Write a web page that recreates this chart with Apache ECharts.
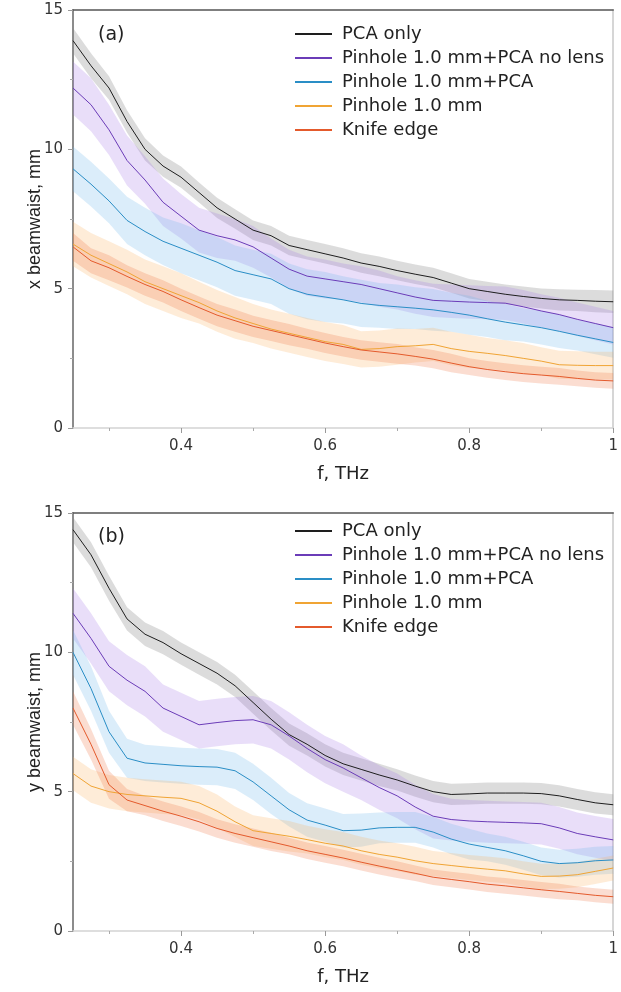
<!DOCTYPE html>
<html>
<head>
<meta charset="utf-8">
<script src="https://cdn.jsdelivr.net/npm/echarts@6/dist/echarts.min.js"></script>
<style>
  html, body { margin: 0; padding: 0; background: #fff; }
  #chart { width: 621px; height: 992px; }
</style>
</head>
<body>
<div id="chart"></div>
<script>
// Frequency grid (THz)
const freq = [0.25,0.275,0.3,0.325,0.35,0.375,0.4,0.425,0.45,0.475,0.5,0.525,0.55,0.575,0.6,0.625,0.65,0.675,0.7,0.725,0.75,0.775,0.8,0.825,0.85,0.875,0.9,0.925,0.95,0.975,1.0];

const seriesNames = ['PCA only', 'Pinhole 1.0 mm+PCA no lens', 'Pinhole 1.0 mm+PCA', 'Pinhole 1.0 mm', 'Knife edge'];

// x beamwaist, mm
const xPcaOnly      = [13.9,13.0,12.2,11.0,10.0,9.4,9.0,8.45,7.9,7.5,7.1,6.9,6.55,6.4,6.25,6.1,5.92,5.8,5.65,5.52,5.4,5.2,5.0,4.9,4.8,4.72,4.65,4.6,4.58,4.55,4.53];
const xPinholePcaNL = [12.2,11.6,10.7,9.6,8.9,8.1,7.6,7.1,6.9,6.75,6.5,6.1,5.7,5.45,5.35,5.25,5.15,5.0,4.85,4.7,4.58,4.55,4.52,4.5,4.48,4.35,4.2,4.07,3.9,3.75,3.6];
const xPinholePca   = [9.3,8.75,8.15,7.45,7.05,6.7,6.45,6.2,5.95,5.65,5.5,5.35,5.0,4.8,4.7,4.6,4.47,4.4,4.35,4.3,4.24,4.15,4.05,3.92,3.8,3.7,3.6,3.47,3.33,3.2,3.07];
const xPinhole      = [6.6,6.2,5.9,5.6,5.25,5.0,4.75,4.5,4.2,3.95,3.75,3.55,3.4,3.25,3.1,3.0,2.82,2.85,2.92,2.95,3.0,2.85,2.75,2.68,2.6,2.5,2.4,2.27,2.25,2.24,2.24];
const xKnifeEdge    = [6.5,6.0,5.75,5.44,5.15,4.9,4.6,4.32,4.05,3.85,3.65,3.5,3.35,3.2,3.05,2.92,2.8,2.73,2.66,2.57,2.47,2.33,2.2,2.1,2.02,1.95,1.9,1.85,1.78,1.72,1.69];

// x beamwaist spread (half width of shaded band), mm
const xPcaOnlyErr      = [0.45,0.45,0.42,0.4,0.4,0.38,0.38,0.36,0.36,0.35,0.35,0.35,0.35,0.35,0.35,0.35,0.35,0.35,0.35,0.35,0.35,0.35,0.35,0.35,0.35,0.36,0.36,0.38,0.38,0.4,0.4];
const xPinholePcaNLErr = [0.95,0.95,0.9,0.9,0.85,0.85,0.8,0.8,0.8,0.75,0.75,0.7,0.7,0.7,0.7,0.65,0.65,0.65,0.6,0.6,0.6,0.6,0.6,0.6,0.6,0.6,0.6,0.6,0.6,0.6,0.6];
const xPinholePcaErr   = [0.8,0.8,0.8,0.85,0.85,0.85,0.9,0.9,0.9,0.9,0.9,0.9,0.9,0.9,0.9,0.85,0.85,0.8,0.8,0.75,0.75,0.7,0.7,0.65,0.65,0.6,0.6,0.6,0.55,0.55,0.55];
const xPinholeErr      = [0.8,0.8,0.8,0.8,0.8,0.8,0.8,0.75,0.75,0.75,0.7,0.7,0.7,0.7,0.7,0.7,0.65,0.65,0.65,0.6,0.6,0.6,0.6,0.55,0.55,0.55,0.5,0.5,0.5,0.5,0.5];
const xKnifeEdgeErr    = [0.5,0.45,0.45,0.4,0.4,0.4,0.4,0.4,0.4,0.4,0.38,0.38,0.38,0.36,0.36,0.35,0.35,0.35,0.35,0.33,0.33,0.33,0.3,0.3,0.3,0.3,0.3,0.3,0.28,0.28,0.28];

// y beamwaist, mm
const yPcaOnly      = [14.4,13.5,12.3,11.2,10.65,10.35,9.95,9.6,9.25,8.8,8.2,7.6,7.05,6.7,6.3,6.0,5.8,5.6,5.42,5.2,5.0,4.9,4.92,4.95,4.95,4.95,4.93,4.85,4.72,4.6,4.53];
const yPinholePcaNL = [11.4,10.5,9.5,9.0,8.6,8.0,7.7,7.4,7.48,7.55,7.58,7.4,7.0,6.55,6.15,5.85,5.5,5.15,4.85,4.45,4.12,4.0,3.95,3.92,3.9,3.88,3.85,3.7,3.5,3.38,3.27];
const yPinholePca   = [10.0,8.7,7.15,6.2,6.03,5.98,5.93,5.9,5.88,5.75,5.35,4.85,4.35,3.98,3.8,3.6,3.62,3.7,3.72,3.72,3.55,3.3,3.12,3.0,2.88,2.7,2.5,2.42,2.45,2.52,2.55];
const yPinhole      = [5.65,5.2,5.0,4.9,4.85,4.8,4.76,4.6,4.3,3.92,3.6,3.5,3.4,3.28,3.15,3.05,2.88,2.75,2.65,2.52,2.42,2.35,2.28,2.22,2.16,2.05,1.96,1.97,2.02,2.14,2.26];
const yKnifeEdge    = [8.0,6.7,5.25,4.7,4.5,4.3,4.12,3.92,3.68,3.5,3.35,3.2,3.05,2.88,2.75,2.62,2.47,2.33,2.2,2.07,1.93,1.85,1.77,1.68,1.62,1.55,1.48,1.42,1.35,1.28,1.23];

// y beamwaist spread (half width of shaded band), mm
const yPcaOnlyErr      = [0.45,0.45,0.45,0.42,0.42,0.42,0.4,0.4,0.4,0.4,0.4,0.4,0.4,0.4,0.4,0.4,0.4,0.4,0.38,0.38,0.38,0.38,0.38,0.38,0.38,0.38,0.38,0.38,0.38,0.38,0.38];
const yPinholePcaNLErr = [0.9,0.9,0.9,0.9,0.9,0.85,0.85,0.85,0.85,0.85,0.85,0.85,0.85,0.85,0.85,0.85,0.8,0.8,0.8,0.8,0.8,0.75,0.75,0.75,0.75,0.75,0.75,0.75,0.75,0.75,0.75];
const yPinholePcaErr   = [0.8,0.8,0.75,0.7,0.65,0.65,0.65,0.65,0.65,0.65,0.65,0.65,0.6,0.6,0.6,0.6,0.6,0.55,0.55,0.55,0.55,0.55,0.55,0.5,0.5,0.5,0.5,0.5,0.5,0.5,0.5];
const yPinholeErr      = [0.6,0.6,0.6,0.6,0.6,0.6,0.6,0.6,0.6,0.55,0.55,0.55,0.55,0.5,0.5,0.5,0.5,0.5,0.5,0.5,0.45,0.45,0.45,0.45,0.45,0.45,0.45,0.45,0.45,0.45,0.45];
const yKnifeEdgeErr    = [0.6,0.55,0.5,0.4,0.35,0.35,0.35,0.35,0.33,0.33,0.33,0.33,0.3,0.3,0.3,0.3,0.3,0.3,0.3,0.28,0.28,0.28,0.28,0.28,0.28,0.28,0.28,0.28,0.25,0.25,0.25];

// Tick values
const yTicks = [0, 5, 10, 15];
const xMajorTicks = [0.4, 0.6, 0.8, 1];
const xMinorTicks = [0.3, 0.5, 0.7, 0.9];

const lineColors = ['#1e1e1e', '#6b3cb8', '#2a8ec6', '#f0a434', '#e45a2c'];
const bandColors = [
  'rgba(140,140,140,0.30)',
  'rgba(165,115,230,0.24)',
  'rgba(110,185,235,0.25)',
  'rgba(250,175,90,0.24)',
  'rgba(240,120,70,0.25)'
];

const panelX = { values: [xPcaOnly, xPinholePcaNL, xPinholePca, xPinhole, xKnifeEdge],
                 errs:   [xPcaOnlyErr, xPinholePcaNLErr, xPinholePcaErr, xPinholeErr, xKnifeEdgeErr] };
const panelY = { values: [yPcaOnly, yPinholePcaNL, yPinholePca, yPinhole, yKnifeEdge],
                 errs:   [yPcaOnlyErr, yPinholePcaNLErr, yPinholePcaErr, yPinholeErr, yKnifeEdgeErr] };

const FONT = '"Liberation Sans", Arial, sans-serif';
const WIDE = '"DejaVu Sans", "Liberation Sans", Arial, sans-serif';

function pairs(vals) { return freq.map((f, i) => [f, vals[i]]); }

// Shaded band between mean - spread and mean + spread, drawn as one polygon
function bandSeries(vals, err, color, xi, yi) {
  const lo = vals.map((v, i) => v - err[i]);
  const hi = vals.map((v, i) => v + err[i]);
  return {
    type: 'custom', xAxisIndex: xi, yAxisIndex: yi, silent: true, z: 1,
    data: freq.map((f, i) => [f, lo[i], hi[i]]),
    encode: { x: 0, y: [1, 2] },
    renderItem: (params, api) => {
      if (params.dataIndex !== 0) return null;
      const upper = freq.map((f, i) => api.coord([f, hi[i]]));
      const lower = freq.map((f, i) => api.coord([f, lo[i]])).reverse();
      return { type: 'polygon', silent: true,
               shape: { points: upper.concat(lower) },
               style: { fill: color } };
    }
  };
}

function panelSeries(panel, xi, yi) {
  const out = [];
  panel.values.forEach((vals, k) => out.push(bandSeries(vals, panel.errs[k], bandColors[k], xi, yi)));
  panel.values.forEach((vals, k) => {
    out.push({
      type: 'line', name: seriesNames[k], xAxisIndex: xi, yAxisIndex: yi,
      data: pairs(vals), showSymbol: false, silent: true,
      color: lineColors[k],
      itemStyle: { color: lineColors[k] },
      lineStyle: { color: lineColors[k], width: 1 }, z: 3
    });
  });
  return out;
}

function xAxesFor(gridIndex) {
  return [
    { // main frequency axis
      type: 'value', gridIndex, min: 0.25, max: 1, position: 'bottom',
      name: 'f, THz', nameLocation: 'middle', nameGap: 37,
      nameTextStyle: { fontSize: 18, color: '#222', fontFamily: WIDE },
      axisLine: { show: true, onZero: false, lineStyle: { color: '#d4d4d4', width: 1.5 } },
      axisTick: { show: true, customValues: xMajorTicks, length: 5, lineStyle: { color: '#999', width: 1 } },
      axisLabel: { show: true, customValues: xMajorTicks, margin: 11, fontSize: 15, color: '#333', fontFamily: WIDE },
      splitLine: { show: false }
    },
    { // minor ticks
      type: 'value', gridIndex, min: 0.25, max: 1, position: 'bottom',
      axisLine: { show: false },
      axisTick: { show: true, customValues: xMinorTicks, length: 3, lineStyle: { color: '#aaa', width: 1 } },
      axisLabel: { show: false, customValues: xMinorTicks },
      splitLine: { show: false }
    },
    { // top frame
      type: 'value', gridIndex, min: 0.25, max: 1, position: 'top',
      axisLine: { show: true, onZero: false, lineStyle: { color: '#555', width: 1.5 } },
      axisTick: { show: false }, axisLabel: { show: false }, splitLine: { show: false }
    }
  ];
}

function yAxesFor(gridIndex, title) {
  return [
    {
      type: 'value', gridIndex, min: 0, max: 15, interval: 5, position: 'left',
      name: title, nameLocation: 'middle', nameGap: 29, nameRotate: 90,
      nameMoveOverlap: false,
      nameTextStyle: { fontSize: 18, color: '#222', fontFamily: FONT },
      axisLine: { show: true, onZero: false, lineStyle: { color: '#8c8c8c', width: 2 } },
      axisTick: { show: true, length: 5, lineStyle: { color: '#999', width: 1 } },
      minorTick: { show: true, splitNumber: 2, length: 3, lineStyle: { color: '#aaa', width: 1 } },
      axisLabel: { margin: 10, fontSize: 15, color: '#333', fontFamily: WIDE,
                   customValues: yTicks },
      splitLine: { show: false }
    },
    { // right frame
      type: 'value', gridIndex, min: 0, max: 15, interval: 5, position: 'right',
      axisLine: { show: true, onZero: false, lineStyle: { color: '#c8c8c8', width: 1.5 } },
      axisTick: { show: false }, axisLabel: { show: false }, splitLine: { show: false }
    }
  ];
}

function legendFor(top) {
  return {
    show: true, orient: 'vertical', left: 290, top,
    data: seriesNames, icon: 'rect', itemWidth: 37, itemHeight: 2, itemGap: 6,
    selectedMode: false,
    textStyle: { fontSize: 18, lineHeight: 18, color: '#222', fontFamily: WIDE, padding: [0, 0, 0, 5] }
  };
}

const chart = echarts.init(document.getElementById('chart'), null, { renderer: 'canvas' });
chart.setOption({
  animation: false,
  backgroundColor: '#fff',
  title: [
    { text: '(a)', left: 93, top: 21, textStyle: { fontSize: 19, fontWeight: 'normal', color: '#222', fontFamily: WIDE } },
    { text: '(b)', left: 93, top: 523, textStyle: { fontSize: 19, fontWeight: 'normal', color: '#222', fontFamily: WIDE } }
  ],
  legend: [legendFor(20), legendFor(517)],
  grid: [
    { left: 73, right: 3, top: 10, height: 418 },
    { left: 73, right: 3, top: 513, height: 418 }
  ],
  xAxis: [...xAxesFor(0), ...xAxesFor(1)],
  yAxis: [...yAxesFor(0, 'x beamwaist, mm'), ...yAxesFor(1, 'y beamwaist, mm')],
  series: [...panelSeries(panelX, 0, 0), ...panelSeries(panelY, 3, 2)]
});
</script>
</body>
</html>
